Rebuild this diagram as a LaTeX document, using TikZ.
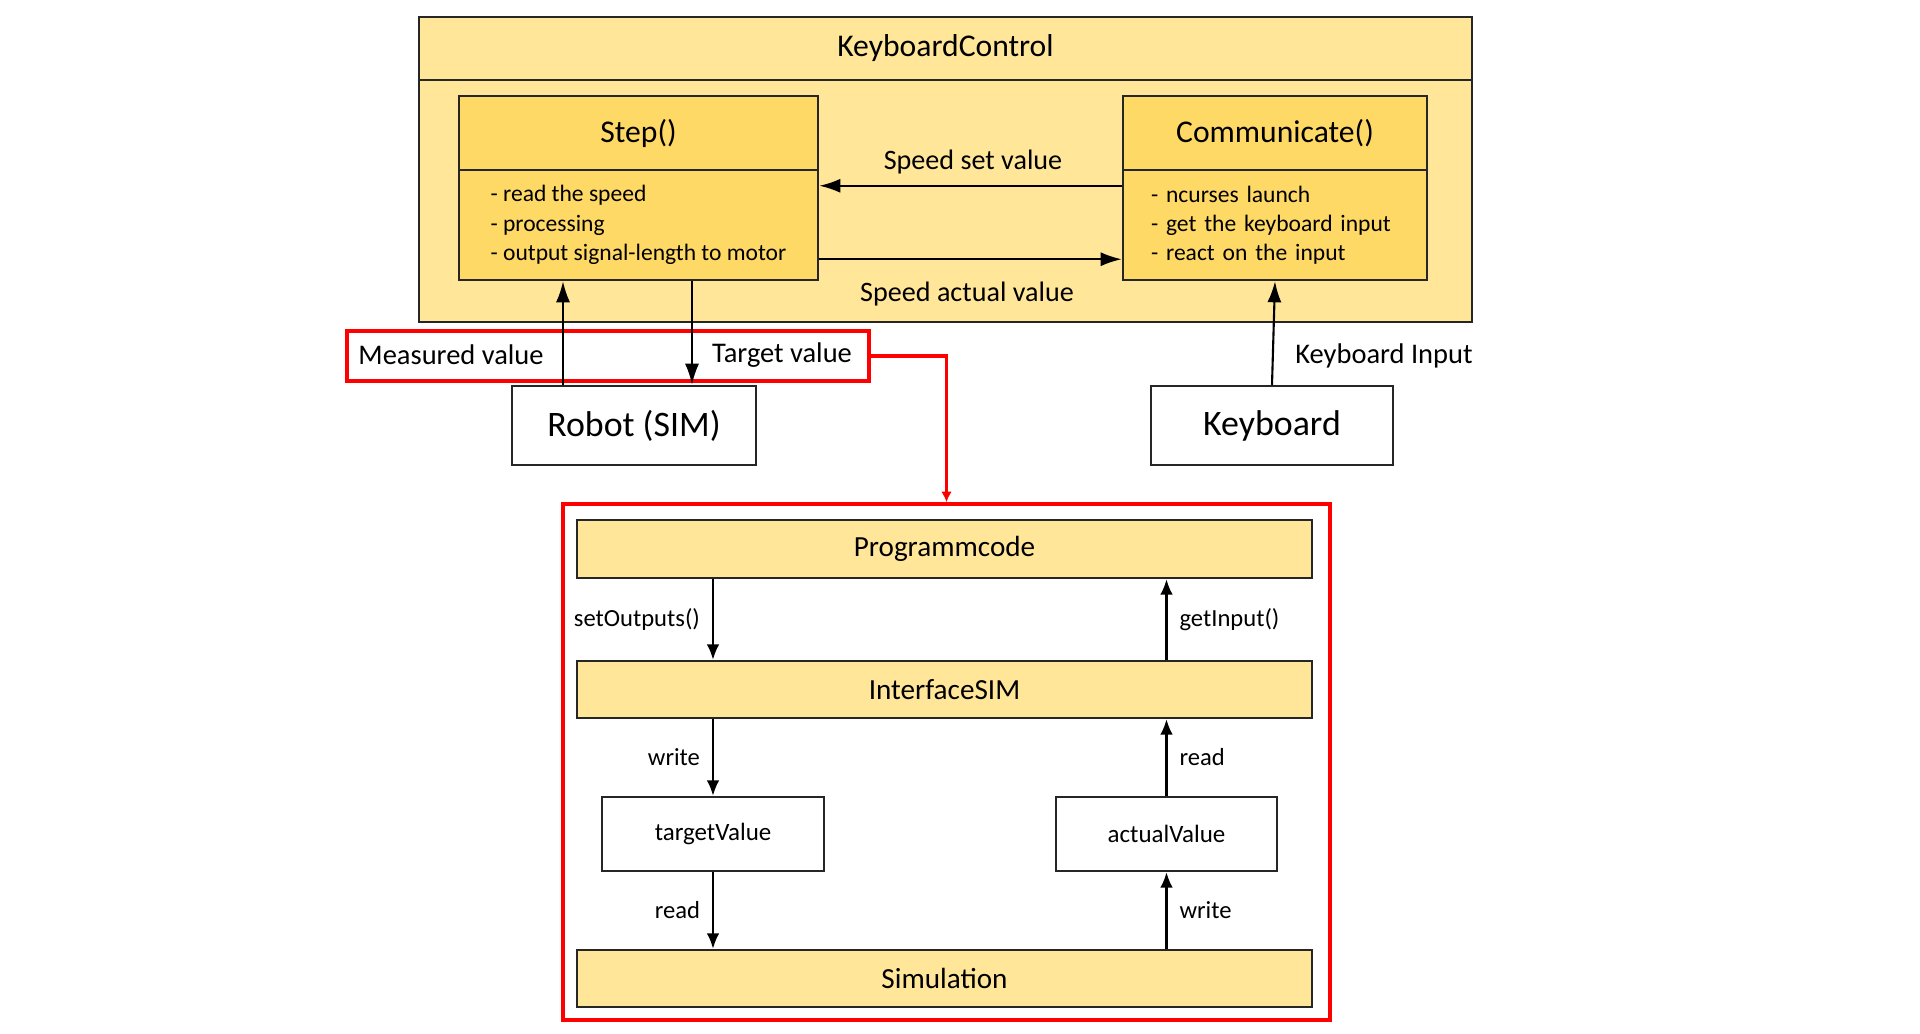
\documentclass[tikz,border=0pt]{standalone}
\usepackage{fontspec}
\setmainfont{Carlito}
\usepackage{tikz}
\usetikzlibrary{arrows.meta}
\definecolor{goldlight}{HTML}{FFE699}
\definecolor{golddark}{HTML}{FFD966}
\definecolor{frame}{HTML}{262626}
\tikzstyle{arrow} = [-{Latex[length=6pt,width=4pt]},line width=0.6pt]
\tikzstyle{smallarrow} = [-{Latex[length=4.4pt,width=3.6pt]},line width=0.6pt]
\tikzstyle{box} = [draw=frame,line width=0.7pt,rectangle,inner sep=0pt]
\tikzstyle{lbl} = [inner sep=0pt]
\tikzstyle{small} = [inner sep=0pt,font=\fontsize{7}{8}\selectfont]

\begin{document}
\begin{tikzpicture}
          \useasboundingbox[fill=white] (0,0) rectangle (19.2,-10.34);
          % keyboard control
          \node[box, fill=goldlight, minimum width=10.53cm, minimum height=2.42cm] at (9.455,-2.01) (kcbody) {};
          \node[box, fill=goldlight, minimum width=10.53cm, minimum height=0.63cm, font=\fontsize{9}{10}\selectfont] at (9.455,-0.485) (kchead) {KeyboardControl};
          \node[box, fill=golddark, minimum width=3.59cm, minimum height=0.74cm, font=\fontsize{9}{10}\selectfont] at (6.385,-1.33) (stephead) {Step()};
          \node[box, fill=golddark, minimum width=3.59cm, minimum height=1.10cm, align=left, font=\fontsize{6.7}{8.3}\selectfont] at (6.385,-2.25) (stepbody) {- read the speed\\- processing\\- output signal-length to motor};
          \node[box, fill=golddark, minimum width=3.04cm, minimum height=0.74cm, font=\fontsize{9}{10}\selectfont] at (12.75,-1.33) (commhead) {Communicate()};
          \node[box, fill=golddark, minimum width=3.04cm, minimum height=1.10cm, text width=2.48cm, align=left, font=\fontsize{6.7}{8.3}\selectfont] at (12.75,-2.25) (commbody) {- ncurses launch\\- get the keyboard input\\- react on the input};
          \node[lbl, font=\fontsize{8}{9}\selectfont] at (9.73,-1.62) (setlbl) {Speed set value};
          \node[lbl, font=\fontsize{8}{9}\selectfont] at (9.67,-2.94) (actlbl) {Speed actual value};

          \draw[arrow] ([yshift=-0.17cm]commbody.north west) -- ([yshift=-0.17cm]stepbody.north east);
          \draw[arrow] ([yshift=0.22cm]stepbody.south east) -- ([yshift=0.22cm]commbody.south west);

          % robot and keyboard
          \node[box, minimum width=2.44cm, minimum height=0.79cm, font=\fontsize{10.2}{12}\selectfont] at (6.34,-4.255) (robot) {Robot (SIM)};
          \node[box, minimum width=2.42cm, minimum height=0.79cm, font=\fontsize{10.2}{12}\selectfont] at (12.72,-4.255) (kbd) {Keyboard};
          \node[draw=red, line width=0.9pt, minimum width=5.22cm, minimum height=0.50cm] at (6.08,-3.56) (redlbl) {};
          \node[lbl, font=\fontsize{8.1}{9}\selectfont] at (4.51,-3.55) (measlbl) {Measured value};
          \node[lbl, font=\fontsize{8.1}{9}\selectfont] at (7.82,-3.55) (tgtlbl) {Target value};
          \node[lbl, font=\fontsize{8.1}{9}\selectfont] at (13.84,-3.56) (kbdlbl) {Keyboard Input};

          \draw[arrow] (robot.north -| 5.63,0) -- (stepbody.south -| 5.63,0);
          \draw[arrow] (stepbody.south -| 6.92,0) -- (robot.north -| 6.92,0);
          \draw[arrow] (kbd.north) -- (commbody.south);

          % simulation interface
          \node[draw=red, line width=1pt, minimum width=7.67cm, minimum height=5.16cm] at (9.465,-7.62) (redbox) {};
          \draw[-{Latex[length=3pt,width=3pt]}, draw=red, line width=0.9pt] (redlbl.east) -| (redbox.north);

          \node[box, fill=goldlight, minimum width=7.35cm, minimum height=0.58cm, font=\fontsize{8.3}{9}\selectfont] at (9.445,-5.49) (prog) {Programmcode};
          \node[box, fill=goldlight, minimum width=7.35cm, minimum height=0.57cm, font=\fontsize{8.3}{9}\selectfont] at (9.445,-6.895) (iface) {InterfaceSIM};
          \node[box, minimum width=2.22cm, minimum height=0.74cm, font=\fontsize{7.1}{8}\selectfont] at (7.13,-8.34) (tval) {targetValue};
          \node[box, minimum width=2.21cm, minimum height=0.74cm, font=\fontsize{7.1}{8}\selectfont] at (11.665,-8.34) (aval) {actualValue};
          \node[box, fill=goldlight, minimum width=7.35cm, minimum height=0.57cm, font=\fontsize{8.3}{9}\selectfont] at (9.445,-9.785) (sim) {Simulation};

          \draw[smallarrow] (prog.south -| tval) -- node[small, left=0.12cm]{setOutputs()} (iface.north -| tval);
          \draw[smallarrow] (iface.north -| aval) -- node[small, right=0.12cm]{getInput()} (prog.south -| aval);
          \draw[smallarrow] (iface.south -| tval) -- node[small, left=0.12cm]{write} (tval.north);
          \draw[smallarrow] (aval.north) -- node[small, right=0.12cm]{read} (iface.south -| aval);
          \draw[smallarrow] (tval.south) -- node[small, left=0.12cm]{read} (sim.north -| tval);
          \draw[smallarrow] (sim.north -| aval) -- node[small, right=0.12cm]{write} (aval.south);
        \end{tikzpicture}
\end{document}
